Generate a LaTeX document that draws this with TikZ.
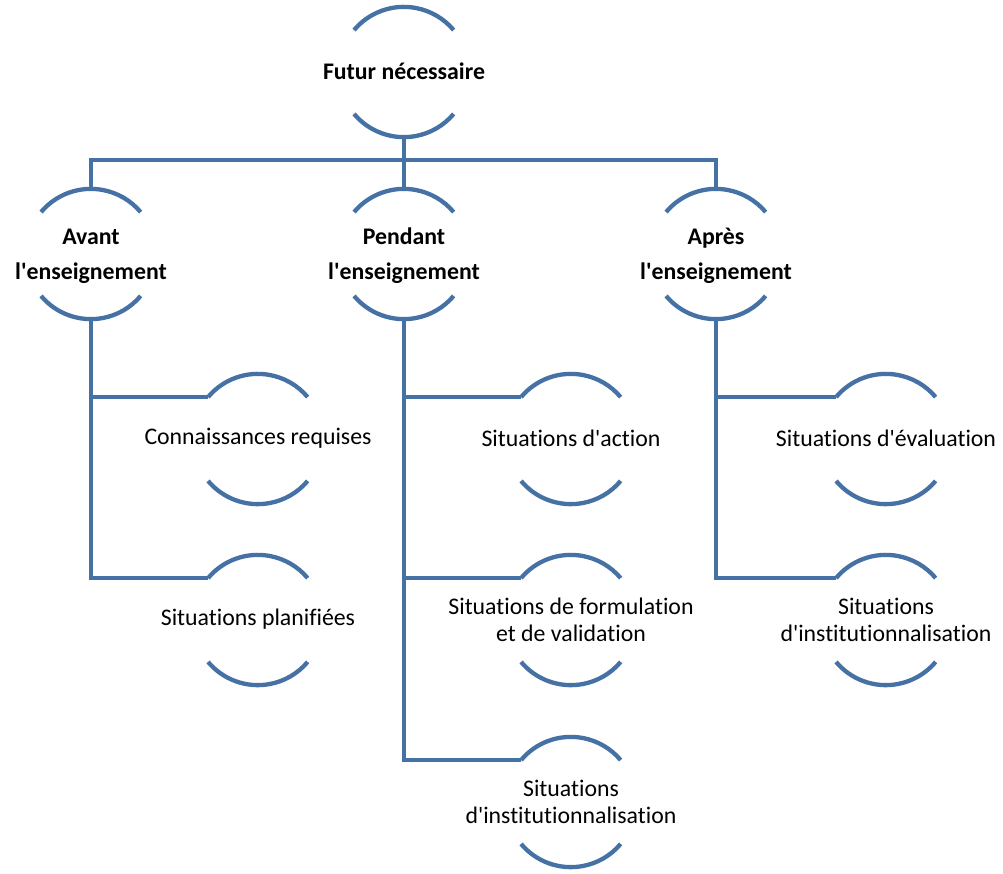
\documentclass[tikz,border=0pt]{standalone}
\usepackage{fontspec}
\setmainfont{Carlito}[Ligatures={TeXOff,NoCommon}]
\definecolor{lineblue}{RGB}{69,113,164}
\begin{document}
\begin{tikzpicture}[x=1pt,y=1pt,
  bk/.style={circle,minimum size=130pt,inner sep=0pt,draw=none},
  boldtxt/.style={align=center,font=\fontsize{23.8}{35}\selectfont\bfseries,inner sep=0pt},
  normtxt/.style={align=center,font=\fontsize{23.8}{26.5}\selectfont,inner sep=0pt},
  conn/.style={draw=lineblue,line width=4.3pt,line join=miter},
  arcline/.style={draw=lineblue,line width=4.3pt}]
\useasboundingbox (0,0) rectangle (1003,-873);
% bracket nodes
\node[bk] (r)  at (404,-72) {};
\node[bk] (a)  at (91,-254) {};
\node[bk] (p)  at (404,-254) {};
\node[bk] (ap) at (716,-254) {};
\node[bk] (a1) at (258,-439) {};
\node[bk] (a2) at (258,-620) {};
\node[bk] (p1) at (571,-439) {};
\node[bk] (p2) at (571,-620) {};
\node[bk] (p3) at (571,-802) {};
\node[bk] (ap1) at (886,-439) {};
\node[bk] (ap2) at (886,-620) {};
% arcs
\foreach \n in {r,a,p,ap,a1,a2,p1,p2,p3,ap1,ap2}{
  \draw[arcline] (\n.140) arc[start angle=140,end angle=40,radius=65pt];
  \draw[arcline] (\n.220) arc[start angle=220,end angle=320,radius=65pt];
}
% texts
\node[boldtxt] (rt) at ([yshift=1pt]r.center) {Futur nécessaire};
\node[boldtxt] (at) at ([yshift=-2pt]a.center) {Avant\\l'enseignement};
\node[boldtxt] (pt) at ([yshift=-2pt]p.center) {Pendant\\l'enseignement};
\node[boldtxt] (apt) at ([yshift=-2pt]ap.center) {Après\\l'enseignement};
\node[normtxt] (a1t) at ([yshift=1pt]a1.center) {Connaissances requises};
\node[normtxt] (a2t) at ([yshift=1pt]a2.center) {Situations planifiées};
\node[normtxt] (p1t) at ([yshift=1pt]p1.center) {Situations d'action};
\node[normtxt] (p2t) at (p2.center) {Situations de formulation\\et de validation};
\node[normtxt] (p3t) at (p3.center) {Situations\\d'institutionnalisation};
\node[normtxt] (ap1t) at ([yshift=1pt]ap1.center) {Situations d'évaluation};
\node[normtxt] (ap2t) at (ap2.center) {Situations\\d'institutionnalisation};
% connectors
\coordinate (bar) at (0,-160);
\draw[conn] (r.south) -- (p.north);
\draw[conn] (a.north) -- (a.north |- bar) -- (ap.north |- bar) -- (ap.north);
\draw[conn] (a.south) |- (a1.140);
\draw[conn] (a.south) |- (a2.140);
\draw[conn] (p.south) |- (p1.140);
\draw[conn] (p.south) |- (p2.140);
\draw[conn] (p.south) |- (p3.140);
\draw[conn] (ap.south) |- (ap1.140);
\draw[conn] (ap.south) |- (ap2.140);
\end{tikzpicture}
\end{document}
